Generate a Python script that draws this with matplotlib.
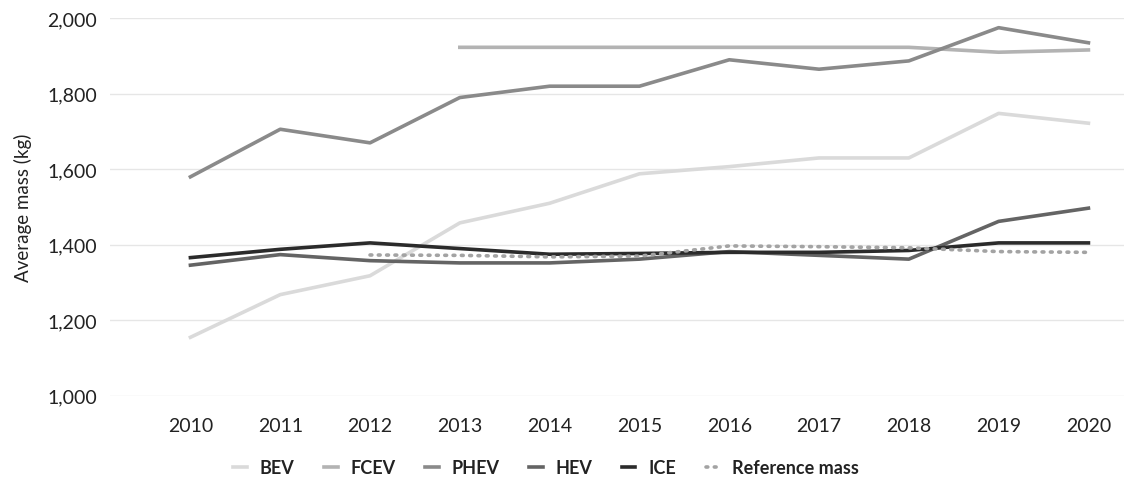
import matplotlib.pyplot as plt
import numpy as np

plt.rcParams['font.family'] = ['Lato', 'DejaVu Sans']

years = list(range(2010, 2021))

bev = [1155, 1268, 1318, 1458, 1510, 1588, 1607, 1630, 1630, 1748, 1722]
fcev = [None, None, None, 1923, 1923, 1923, 1923, 1923, 1923, 1910, 1916]
phev = [1580, 1706, 1670, 1790, 1820, 1820, 1890, 1865, 1887, 1975, 1935]
hev = [1346, 1374, 1358, 1352, 1352, 1362, 1382, 1372, 1362, 1462, 1497]
ice = [1366, 1388, 1405, 1390, 1375, 1377, 1380, 1380, 1385, 1405, 1405]
ref_mass = [None, None, 1373, 1372, 1368, 1370, 1397, 1395, 1392, 1382, 1380]

def arr(v):
    return np.array([np.nan if x is None else x for x in v], dtype=float)

fig, ax = plt.subplots(figsize=(11.3, 4.81), dpi=100)
fig.subplots_adjust(left=0.097, right=0.995, top=0.96, bottom=0.175)

lw = 2.6
ax.plot(years, arr(bev), color="#dadada", lw=lw, label="BEV")
ax.plot(years, arr(fcev), color="#b3b3b3", lw=lw, label="FCEV")
ax.plot(years, arr(phev), color="#8a8a8a", lw=lw, label="PHEV")
ax.plot(years, arr(hev), color="#646464", lw=lw, label="HEV")
ax.plot(years, arr(ice), color="#2b2b2b", lw=lw, label="ICE")
ax.plot(years, arr(ref_mass), color="#a3a3a3", lw=lw, linestyle=(0, (0.5, 1.8)),
        dash_capstyle="round", label="Reference mass")

ax.set_ylim(1000, 2000)
ax.set_xlim(2009.1, 2020.4)
ax.set_yticks(range(1000, 2001, 200))
ax.set_yticklabels(["{:,}".format(v) for v in range(1000, 2001, 200)])
ax.set_xticks(years)
ax.tick_params(axis="both", length=0, labelsize=14, colors="#222222", pad=9)
ax.tick_params(axis="x", pad=15)
ax.grid(axis="y", color="#e6e6e6", lw=1)
ax.set_axisbelow(True)
for s in ax.spines.values():
    s.set_visible(False)

ax.set_ylabel("Average mass (kg)", fontsize=13.5, color="#222222", labelpad=11)

leg = ax.legend(loc="upper center", bbox_to_anchor=(0.43, -0.125), ncol=6, frameon=False,
                handlelength=0.75, columnspacing=1.65, handletextpad=0.7,
                prop={"size": 13, "weight": "bold"})
for t in leg.get_texts():
    t.set_color("#222222")

plt.savefig("out.png", dpi=100)
